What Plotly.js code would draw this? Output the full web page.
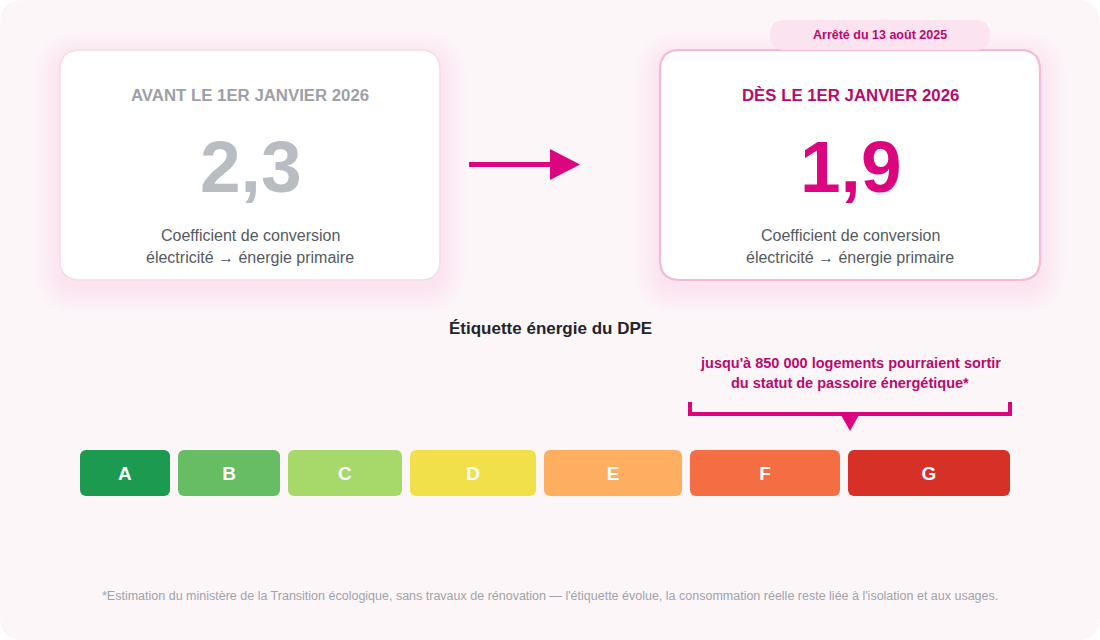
<!DOCTYPE html>
<html lang="fr">
<head>
<meta charset="utf-8">
<script src="https://cdn.plot.ly/plotly-3.0.1.min.js"></script>
<style>
  html, body { margin: 0; padding: 0; background: #ffffff; }
  #chart { width: 1100px; height: 640px; }
</style>
</head>
<body>
<div id="chart"></div>
<script>
/* ── Data ──────────────────────────────────────────────────────────────────── */

const dpeClasses = ['A', 'B', 'C', 'D', 'E', 'F', 'G'];
const dpeColors = ['#1b9a50', '#66bd63', '#a6d96a', '#f2e04b', '#fdae61', '#f46d43', '#d73027'];
const passoireClasses = ['F', 'G'];

const oldCoefficient = 2.3;
const newCoefficient = 1.9;
const cardHeadings = ['AVANT LE 1ER JANVIER 2026', 'DÈS LE 1ER JANVIER 2026'];
const cardCaption = ['Coefficient de conversion', 'électricité → énergie primaire'];
const badgeText = 'Arrêté du 13 août 2025';

const chartTitle = 'Étiquette énergie du DPE';
const calloutLines = ["jusqu'à 850 000 logements pourraient sortir", 'du statut de passoire énergétique*'];
const footnote = "*Estimation du ministère de la Transition écologique, sans travaux de rénovation — l'étiquette évolue, la consommation réelle reste liée à l'isolation et aux usages.";

/* ── Look ──────────────────────────────────────────────────────────────────── */

const FONT = "'Liberation Sans', Arial, sans-serif";
const MAGENTA = '#dc0580';
const MAGENTA_DARK = '#b80a6c';
const GREY_NUM = '#b8bcc3';
const GREY_HEAD = '#9ca0a8';
const TEXT_MID = '#555a62';

// label row geometry: each class is a little wider than the previous one
const BAR_X0 = 80, BAR_W0 = 90, BAR_STEP = 12, BAR_GAP = 8;
const BAR_Y0 = 450, BAR_H = 46;

/* ── Helpers ───────────────────────────────────────────────────────────────── */

/**
 * SVG path of a rounded rectangle (Plotly paths have no arc command, use Q).
 */
function roundRect(x0, y0, x1, y1, r) {
  return 'M' + (x0 + r) + ',' + y0 + ' L' + (x1 - r) + ',' + y0 +
    ' Q' + x1 + ',' + y0 + ' ' + x1 + ',' + (y0 + r) +
    ' L' + x1 + ',' + (y1 - r) +
    ' Q' + x1 + ',' + y1 + ' ' + (x1 - r) + ',' + y1 +
    ' L' + (x0 + r) + ',' + y1 +
    ' Q' + x0 + ',' + y1 + ' ' + x0 + ',' + (y1 - r) +
    ' L' + x0 + ',' + (y0 + r) +
    ' Q' + x0 + ',' + y0 + ' ' + (x0 + r) + ',' + y0 + ' Z';
}

function frNumber(v) {
  return v.toFixed(1).replace('.', ',');
}

function txt(x, y, text, size, color, extra) {
  return Object.assign({
    x: x, y: y, xref: 'x', yref: 'y', text: text, showarrow: false,
    xanchor: 'center', yanchor: 'middle',
    font: { family: FONT, size: size, color: color },
  }, extra || {});
}

/**
 * Soft pink glow under a card: many faint, growing rounded rects.
 */
function glow(x0, y0, x1, y1, alpha) {
  const out = [];
  for (let g = 26; g >= 2; g -= 3) {
    out.push({
      type: 'path', layer: 'below',
      path: roundRect(x0 - g, y0 - g + 8, x1 + g, y1 + g + 8, 20 + g),
      fillcolor: 'rgba(236,120,175,' + alpha + ')',
      line: { width: 0 },
    });
  }
  return out;
}

/* ── Build ─────────────────────────────────────────────────────────────────── */

// bar positions from class index
const barWidths = dpeClasses.map((c, i) => BAR_W0 + BAR_STEP * i);
const barLefts = [];
let cursor = BAR_X0;
barWidths.forEach(w => { barLefts.push(cursor); cursor += w + BAR_GAP; });
const barCenters = barLefts.map((l, i) => l + barWidths[i] / 2);

const traces = [{
  type: 'bar',
  x: barCenters,
  y: dpeClasses.map(() => BAR_H),
  base: dpeClasses.map(() => BAR_Y0),
  width: barWidths,
  text: dpeClasses,
  textposition: 'inside',
  insidetextanchor: 'middle',
  textangle: 0,
  constraintext: 'none',
  textfont: { family: FONT, size: 19, color: '#ffffff', weight: 700 },
  marker: { color: dpeColors, cornerradius: 6, line: { width: 0 } },
  hoverinfo: 'skip',
}];

// bracket above the passoire classes
const pIdx = passoireClasses.map(c => dpeClasses.indexOf(c));
const brL = barLefts[Math.min(...pIdx)];
const brR = barLefts[Math.max(...pIdx)] + barWidths[Math.max(...pIdx)];
const brC = (brL + brR) / 2;
const brY = 414;

const shapes = [
  // page background
  { type: 'path', layer: 'below', path: roundRect(0, 0, 1100, 640, 24),
    fillcolor: '#fcf6f9', line: { width: 0 } },
  ...glow(60, 50, 440, 280, 0.011),
  ...glow(660, 50, 1040, 280, 0.016),
  // cards
  { type: 'path', layer: 'below', path: roundRect(60, 50, 440, 280, 20),
    fillcolor: '#ffffff', line: { color: '#f4dbe7', width: 1.5 } },
  { type: 'path', layer: 'below', path: roundRect(660, 50, 1040, 280, 20),
    fillcolor: '#ffffff', line: { color: '#f5bad7', width: 2.2 } },
  // badge
  { type: 'path', layer: 'below', path: roundRect(770, 20, 990, 50, 15),
    fillcolor: '#fce3f0', line: { width: 0 } },
  // arrow between the cards
  { type: 'line', layer: 'below', x0: 469, x1: 553, y0: 164.5, y1: 164.5,
    line: { color: MAGENTA, width: 5 } },
  { type: 'path', layer: 'below', path: 'M550,149 L580,164.5 L550,180 Z',
    fillcolor: MAGENTA, line: { width: 0 } },
  // bracket
  { type: 'path', layer: 'below',
    path: 'M' + brL + ',' + (brY - 12) + ' L' + brL + ',' + brY + ' L' + brR + ',' + brY + ' L' + brR + ',' + (brY - 12),
    fillcolor: 'rgba(0,0,0,0)', line: { color: MAGENTA, width: 4 } },
  { type: 'path', layer: 'below',
    path: 'M' + (brC - 9) + ',' + (brY + 1) + ' L' + (brC + 9) + ',' + (brY + 1) + ' L' + brC + ',' + (brY + 17) + ' Z',
    fillcolor: MAGENTA, line: { width: 0 } },
];

const annotations = [
  // left card
  txt(250, 95, '<b>' + cardHeadings[0] + '</b>', 16.8, GREY_HEAD),
  txt(250, 166, '<b>' + frNumber(oldCoefficient) + '</b>', 73, GREY_NUM),
  txt(250, 235, cardCaption[0], 16, TEXT_MID),
  txt(250, 257, cardCaption[1], 16, TEXT_MID),
  // right card
  txt(880, 35, '<b>' + badgeText + '</b>', 12.5, MAGENTA_DARK),
  txt(850, 95, '<b>' + cardHeadings[1] + '</b>', 16.8, MAGENTA_DARK),
  txt(850, 166, '<b>' + frNumber(newCoefficient) + '</b>', 73, MAGENTA),
  txt(850, 235, cardCaption[0], 16, TEXT_MID),
  txt(850, 257, cardCaption[1], 16, TEXT_MID),
  // scale title and callout
  txt(550, 328, '<b>' + chartTitle + '</b>', 17, '#23252b'),
  txt(brC, 363, '<b>' + calloutLines[0] + '</b>', 14.5, MAGENTA_DARK),
  txt(brC, 383, '<b>' + calloutLines[1] + '</b>', 14.5, MAGENTA_DARK),
  // footnote
  txt(550, 596, footnote, 12.5, '#a0a3aa'),
];

const layout = {
  width: 1100,
  height: 640,
  margin: { l: 0, r: 0, t: 0, b: 0, pad: 0 },
  paper_bgcolor: '#ffffff',
  plot_bgcolor: 'rgba(0,0,0,0)',
  showlegend: false,
  xaxis: { range: [0, 1100], visible: false, fixedrange: true },
  yaxis: { range: [640, 0], visible: false, fixedrange: true },
  shapes: shapes,
  annotations: annotations,
  font: { family: FONT },
};

Plotly.newPlot('chart', traces, layout, { displayModeBar: false, staticPlot: true });
</script>
</body>
</html>
